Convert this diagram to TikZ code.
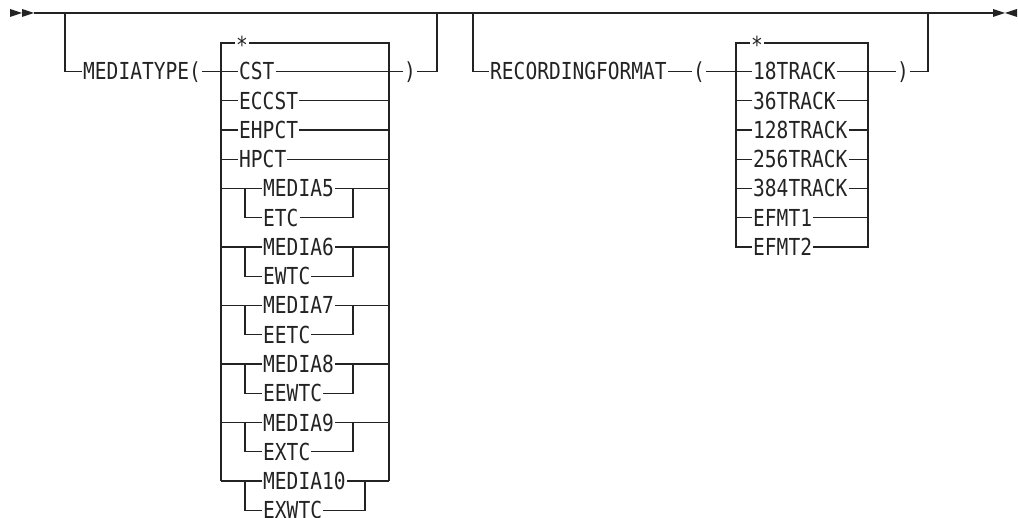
\documentclass[tikz,border=0pt]{standalone}
\usepackage{fontspec}
\newfontfamily\rrfont[FakeStretch=0.835]{DejaVu Sans Mono}
\definecolor{ink}{RGB}{35,35,35}
\begin{document}
\begin{tikzpicture}[x=1bp,y=-1bp,
  rr/.style={line width=1.2bp, draw=ink},
  tx/.style={font=\rrfont\fontsize{23.5}{23.5}\selectfont, text=ink, inner xsep=1bp, inner ysep=0pt, text height=17bp, text depth=0pt, anchor=west},
  tip/.style={fill=ink, draw=none}]
\useasboundingbox (0,0) rectangle (1018,518);
% main line
\coordinate (s) at (34,13);
\coordinate (e) at (993,13);
\fill[tip] (10,9) -- (22,13) -- (10,17) -- cycle;
\fill[tip] (22,9) -- (34,13) -- (22,17) -- cycle;
\fill[tip] (993,9) -- (1005,13) -- (993,17) -- cycle;
\fill[tip] (1017,9) -- (1005,13) -- (1017,17) -- cycle;
\draw[rr] (s) -- (e);
% ---------- MEDIATYPE group
\node[tx] (mt) at (82,71.5) {MEDIATYPE(};
\node[tx] (a0) at (235,45) {*};
\node[tx] (a1) at (238,71.5) {CST};
\node[tx] (a2) at (238,100.75) {ECCST};
\node[tx] (a3) at (238,130) {EHPCT};
\node[tx] (a4) at (238,159.25) {HPCT};
\node[tx] (c1) at (403,71.5) {)};
\draw[rr] (65,13) -- (65,71.5) -- (mt.west);
\draw[rr] (mt.east) -- (a1.west);
\draw[rr] (a1.east) -- (c1.west);
\draw[rr] (c1.east) -- (437,71.5) -- (437,13);
\draw[rr] (a0.west |- 0,43) -- (221,43) -- (221,481);
\draw[rr] (a0.east |- 0,43) -- (389,43) -- (389,481);
\foreach \i/\y in {2/100.75,3/130,4/159.25}{
  \draw[rr] (221,\y) -- (a\i.west);
  \draw[rr] (a\i.east) -- (389,\y);
}
\foreach \n/\e/\y/\r in {5/ETC/188.5/353, 6/EWTC/247/353, 7/EETC/305.5/353, 8/EEWTC/364/353, 9/EXTC/422.5/353, 10/EXWTC/481/365}{
  \node[tx] (m\n) at (262,\y) {MEDIA\n};
  \node[tx] (e\n) at (262,\y+29.25) {\e};
  \draw[rr] (221,\y) -- (245,\y) -- (m\n.west);
  \draw[rr] (245,\y) |- (e\n.west);
  \draw[rr] (m\n.east) -- (389,\y);
  \draw[rr] (e\n.east) -| (\r,\y);
}
% ---------- RECORDINGFORMAT group
\node[tx] (rf) at (489,71.5) {RECORDINGFORMAT};
\node[tx] (op) at (692,71.5) {(};
\node[tx] (b0) at (750,45) {*};
\node[tx] (b1) at (752,71.5) {18TRACK};
\node[tx] (b2) at (752,100.75) {36TRACK};
\node[tx] (b3) at (752,130) {128TRACK};
\node[tx] (b4) at (752,159.25) {256TRACK};
\node[tx] (b5) at (752,188.5) {384TRACK};
\node[tx] (b6) at (752,217.75) {EFMT1};
\node[tx] (b7) at (752,247) {EFMT2};
\node[tx] (c2) at (896,71.5) {)};
\draw[rr] (473,13) -- (473,71.5) -- (rf.west);
\draw[rr] (rf.east) -- (op.west);
\draw[rr] (op.east) -- (b1.west);
\draw[rr] (b1.east) -- (c2.west);
\draw[rr] (c2.east) -- (928,71.5) -- (928,13);
\draw[rr] (b0.west |- 0,43) -- (736,43) -- (736,247) -- (b7.west);
\draw[rr] (b0.east |- 0,43) -- (868,43) -- (868,247) -- (b7.east);
\foreach \i/\y in {2/100.75,3/130,4/159.25,5/188.5,6/217.75}{
  \draw[rr] (736,\y) -- (b\i.west);
  \draw[rr] (b\i.east) -- (868,\y);
}
\end{tikzpicture}
\end{document}
